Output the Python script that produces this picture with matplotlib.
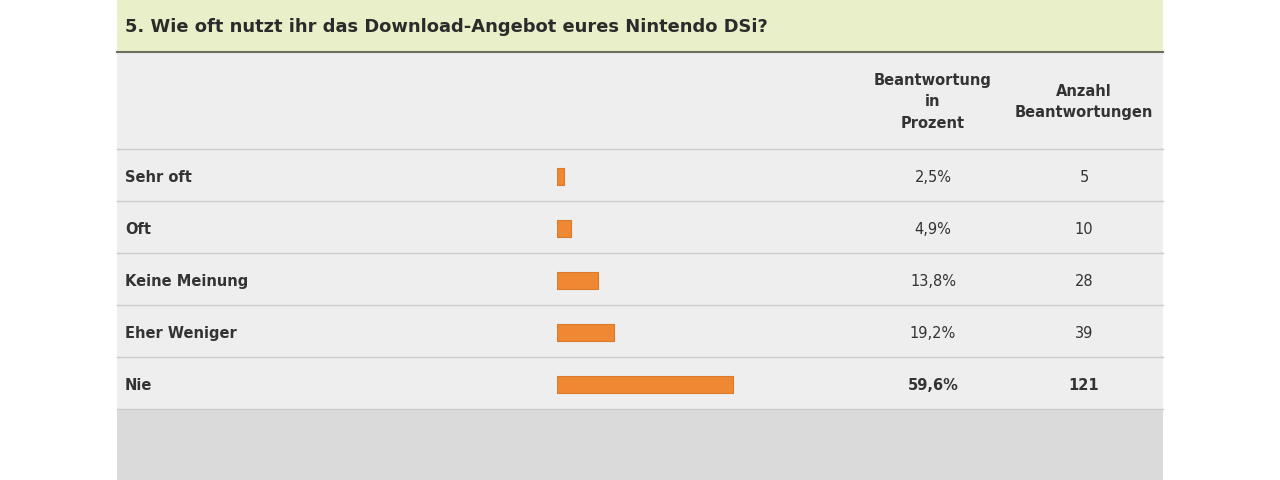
import matplotlib.pyplot as plt
from matplotlib.patches import Rectangle

# survey data
title = "5. Wie oft nutzt ihr das Download-Angebot eures Nintendo DSi?"
answers = ["Sehr oft", "Oft", "Keine Meinung", "Eher Weniger", "Nie"]
percent = [2.5, 4.9, 13.8, 19.2, 59.6]
counts = [5, 10, 28, 39, 121]
col_headers = ["Beantwortung\nin\nProzent", "Anzahl\nBeantwortungen"]

W, H = 1280, 481
fig = plt.figure(figsize=(W / 100, H / 100), dpi=100)
fig.patch.set_facecolor("white")

# background axes in pixel units
bg = fig.add_axes([0, 0, 1, 1])
bg.set_xlim(0, W)
bg.set_ylim(H, 0)
bg.axis("off")

left, right = 117, 1163
row_top, row_h = 150, 52
n = len(answers)
table_bottom = row_top + n * row_h

bg.add_patch(Rectangle((left, 0), right - left, 52, color="#e9efc8", lw=0))
bg.plot([left, right], [52.5, 52.5], color="#6e6e60", lw=1.5)
bg.add_patch(Rectangle((left, 53), right - left, table_bottom - 53, color="#efeeee", lw=0))
bg.add_patch(Rectangle((left, table_bottom), right - left, H - table_bottom, color="#dadada", lw=0))
for i in range(n + 1):
    y = row_top + i * row_h
    bg.plot([left, right], [y, y], color="#cbcbcb", lw=1)

font = "DejaVu Sans"
bg.text(125, 27, title, fontsize=12.9, fontweight="bold", color="#2b2b2b",
        va="center", ha="left", family=font)
bg.text(933, 102, col_headers[0], fontsize=10.5, fontweight="bold", color="#333333",
        ha="center", va="center", linespacing=1.55, family=font)
bg.text(1084, 102, col_headers[1], fontsize=10.5, fontweight="bold", color="#333333",
        ha="center", va="center", linespacing=1.55, family=font)

for i, (a, p, c) in enumerate(zip(answers, percent, counts)):
    yc = row_top + i * row_h + row_h / 2 + 1.5
    last = i == n - 1
    bg.text(125, yc, a, fontsize=10.5, fontweight="bold", color="#333333",
            va="center", ha="left", family=font)
    bg.text(933, yc, f"{p:.1f}%".replace(".", ","), fontsize=10.5,
            fontweight="bold" if last else "normal", color="#333333",
            va="center", ha="center", family=font)
    bg.text(1084, yc, str(c), fontsize=10.5,
            fontweight="bold" if last else "normal", color="#333333",
            va="center", ha="center", family=font)

# bar axes: 0..100 % spans ~295 px starting at x=557
bar_left, bar_w = 557, 295
ax = fig.add_axes([bar_left / W, 1 - (table_bottom + 1.5) / H, bar_w / W, (n * row_h) / H])
ax.barh(range(n), percent, height=0.34, color="#ef8833", edgecolor="#d97a2c", lw=0.8)
ax.set_xlim(0, 100)
ax.set_ylim(n - 0.5, -0.5)
ax.axis("off")

fig.savefig("out.png", dpi=100)
